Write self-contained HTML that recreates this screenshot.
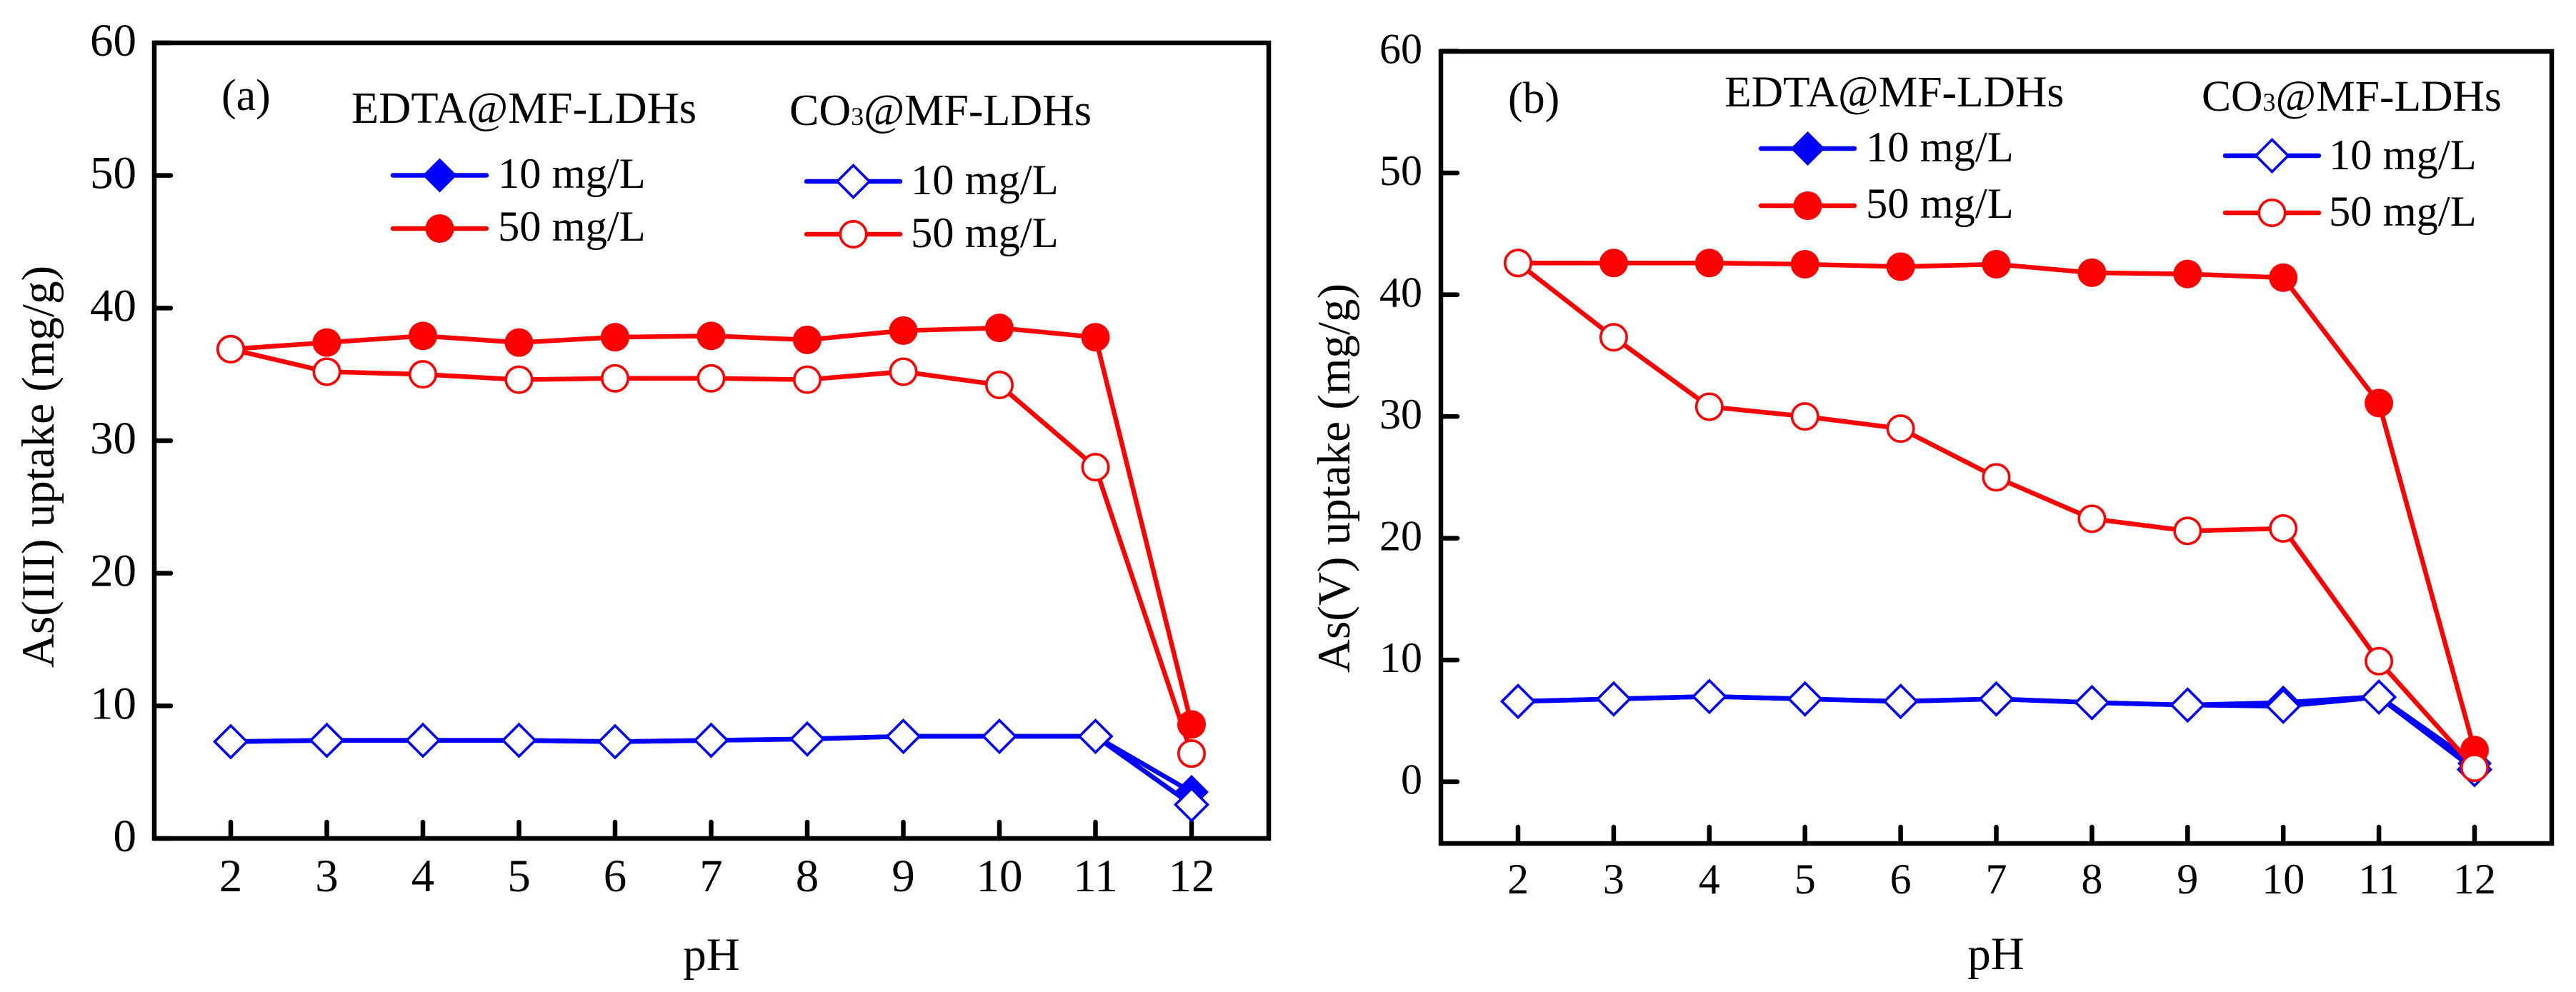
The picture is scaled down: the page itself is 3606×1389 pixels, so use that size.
<!DOCTYPE html>
<html lang="en">
<head>
<meta charset="utf-8">
<title>As uptake versus pH</title>
<style>
html,body{margin:0;padding:0;background:#fff;width:3606px;height:1389px;overflow:hidden}
svg{display:block}
text{font-family:"Liberation Serif",serif;fill:#000}
</style>
</head>
<body>
<svg id="chart" xmlns="http://www.w3.org/2000/svg" width="3606" height="1389" viewBox="0 0 3606 1389">
  <rect x="0" y="0" width="3606" height="1389" fill="#fff"/>
  <g id="panel-a"></g>
  <g id="panel-b"></g>

  <g>
    <text transform="translate(75,935) rotate(-90)" font-size="65">As(III) uptake (mg/g)</text>
    <text x="996" y="1358" font-size="65" text-anchor="middle">pH</text>
    <text x="310" y="154" font-size="62">(a)</text>
    <text x="492" y="172" font-size="62.5">EDTA@MF-LDHs</text>
    <text x="1105" y="175" font-size="62">CO<tspan font-size="36">3</tspan>@MF-LDHs</text>
    <text x="697" y="263" font-size="60.5">10 mg/L</text>
    <text x="697" y="337" font-size="60.5">50 mg/L</text>
    <text x="1275" y="272" font-size="60.5">10 mg/L</text>
    <text x="1275" y="346" font-size="60.5">50 mg/L</text>
  </g>

  <g>
    <text transform="translate(1889,942) rotate(-90)" font-size="65">As(V) uptake (mg/g)</text>
    <text x="2794" y="1357" font-size="65" text-anchor="middle">pH</text>
    <text x="2111" y="158" font-size="62">(b)</text>
    <text x="2414" y="149" font-size="61.5">EDTA@MF-LDHs</text>
    <text x="3082" y="155" font-size="61.5">CO<tspan font-size="36">3</tspan>@MF-LDHs</text>
    <text x="2612" y="226" font-size="60.5">10 mg/L</text>
    <text x="2612" y="305" font-size="60.5">50 mg/L</text>
    <text x="3260" y="237" font-size="60.5">10 mg/L</text>
    <text x="3260" y="316" font-size="60.5">50 mg/L</text>
  </g>
</svg>
<script>
const phCategories = [2, 3, 4, 5, 6, 7, 8, 9, 10, 11, 12];
const yTicksA = [0, 10, 20, 30, 40, 50, 60];
const yTicksB = [0, 10, 20, 30, 40, 50, 60];

const aEdta10 = [7.3, 7.4, 7.4, 7.4, 7.3, 7.4, 7.5, 7.7, 7.7, 7.7, 3.5];
const aEdta50 = [36.9, 37.4, 37.9, 37.4, 37.8, 37.9, 37.6, 38.3, 38.5, 37.8, 8.6];
const aCo310 = [7.3, 7.4, 7.4, 7.4, 7.3, 7.4, 7.5, 7.7, 7.7, 7.7, 2.55];
const aCo350 = [36.9, 35.2, 35.0, 34.6, 34.7, 34.7, 34.6, 35.2, 34.2, 28.0, 6.4];

const bEdta10 = [6.6, 6.8, 7.0, 6.8, 6.6, 6.8, 6.5, 6.3, 6.5, 7.0, 1.5];
const bEdta50 = [42.6, 42.6, 42.6, 42.5, 42.3, 42.5, 41.8, 41.7, 41.4, 31.1, 2.6];
const bCo310 = [6.6, 6.8, 7.0, 6.8, 6.6, 6.8, 6.5, 6.3, 6.2, 6.95, 1.0];
const bCo350 = [42.6, 36.5, 30.8, 30.0, 29.0, 25.0, 21.6, 20.6, 20.8, 9.9, 1.15];

const SVGNS = 'http://www.w3.org/2000/svg';
const BLUE = '#0000ff';
const RED = '#ff0000';

function make(tag, parent) {
  const el = document.createElementNS(SVGNS, tag);
  parent.appendChild(el);
  return el;
}

function linearAxis(d0, p0, d1, p1) {
  return function (v) { return p0 + (v - d0) * (p1 - p0) / (d1 - d0); };
}

function drawMarker(parent, kind, cx, cy, name) {
  let el;
  if (kind === 'filled-diamond' || kind === 'open-diamond') {
    el = make('polygon', parent);
    const open = kind === 'open-diamond';
    const r = open ? 22.5 : 24;
    el.setAttribute('points', (cx - r) + ',' + cy + ' ' + cx + ',' + (cy - r) + ' ' + (cx + r) + ',' + cy + ' ' + cx + ',' + (cy + r));
    el.setAttribute('fill', open ? '#fff' : BLUE);
    el.setAttribute('stroke', open ? BLUE : 'none');
    el.setAttribute('stroke-width', '3.6');
    el.setAttribute('stroke-linejoin', 'miter');
  } else {
    el = make('circle', parent);
    const open = kind === 'open-circle';
    el.setAttribute('cx', cx);
    el.setAttribute('cy', cy);
    el.setAttribute('r', open ? 18.2 : 20);
    el.setAttribute('fill', open ? '#fff' : RED);
    el.setAttribute('stroke', open ? RED : 'none');
    el.setAttribute('stroke-width', '3.6');
  }
  
  
  return el;
}

function drawSeries(parent, name, values, color, kind, xOf, yOf) {
  const g = make('g', parent);
  
  
  const line = make('polyline', g);
  
  
  line.setAttribute('points', values.map(function (v, i) { return xOf(phCategories[i]) + ',' + yOf(v); }).join(' '));
  line.setAttribute('fill', 'none');
  line.setAttribute('stroke', color);
  line.setAttribute('stroke-width', '6.5');
  values.forEach(function (v, i) {
    drawMarker(g, kind, xOf(phCategories[i]), yOf(v), name + '-point-ph' + phCategories[i]);
  });
}

function drawLegendKey(parent, name, x0, x1, y, color, kind) {
  const g = make('g', parent);
  
  
  const line = make('line', g);
  
  
  line.setAttribute('x1', x0);
  line.setAttribute('x2', x1);
  line.setAttribute('y1', y);
  line.setAttribute('y2', y);
  line.setAttribute('stroke', color);
  line.setAttribute('stroke-width', '6.5');
  line.setAttribute('stroke-linecap', 'round');
  drawMarker(g, kind, (x0 + x1) / 2, y, name + '-marker');
}

function drawPanel(opts) {
  const root = document.getElementById(opts.id);
  const xOf = opts.xOf;
  const yOf = opts.yOf;

  const xTicks = make('g', root);
  
  
  phCategories.forEach(function (c) {
    const t = make('line', xTicks);
    
    
    t.setAttribute('x1', xOf(c));
    t.setAttribute('x2', xOf(c));
    t.setAttribute('y1', opts.bottom);
    t.setAttribute('y2', opts.bottom - 23);
    t.setAttribute('stroke', '#000');
    t.setAttribute('stroke-width', '6.5');
    t.setAttribute('stroke-linecap', 'round');
    const l = make('text', xTicks);
    
    
    l.setAttribute('x', xOf(c));
    l.setAttribute('y', opts.xLabelY);
    l.setAttribute('font-size', opts.tickFont);
    l.setAttribute('text-anchor', 'middle');
    l.textContent = String(c);
  });

  const yTicks = make('g', root);
  
  
  opts.yTickValues.forEach(function (v) {
    const t = make('line', yTicks);
    
    
    t.setAttribute('x1', opts.left);
    t.setAttribute('x2', opts.left + 23);
    t.setAttribute('y1', yOf(v));
    t.setAttribute('y2', yOf(v));
    t.setAttribute('stroke', '#000');
    t.setAttribute('stroke-width', '6.5');
    t.setAttribute('stroke-linecap', 'round');
    const l = make('text', yTicks);
    
    
    l.setAttribute('x', opts.yLabelX);
    l.setAttribute('y', yOf(v) + opts.yLabelDy);
    l.setAttribute('font-size', opts.tickFont);
    l.setAttribute('text-anchor', 'end');
    l.textContent = String(v);
  });

  const frame = make('rect', root);
  
  
  frame.setAttribute('x', opts.left);
  frame.setAttribute('y', opts.top);
  frame.setAttribute('width', opts.right - opts.left);
  frame.setAttribute('height', opts.bottom - opts.top);
  frame.setAttribute('fill', 'none');
  frame.setAttribute('stroke', '#000');
  frame.setAttribute('stroke-width', '6.5');

  drawSeries(root, opts.prefix + '-series-edta-10', opts.edta10, BLUE, 'filled-diamond', xOf, yOf);
  drawSeries(root, opts.prefix + '-series-co3-10', opts.co310, BLUE, 'open-diamond', xOf, yOf);
  drawSeries(root, opts.prefix + '-series-edta-50', opts.edta50, RED, 'filled-circle', xOf, yOf);
  drawSeries(root, opts.prefix + '-series-co3-50', opts.co350, RED, 'open-circle', xOf, yOf);

  drawLegendKey(root, opts.prefix + '-legend-key-edta-10', opts.keyE[0], opts.keyE[1], opts.keyE[2], BLUE, 'filled-diamond');
  drawLegendKey(root, opts.prefix + '-legend-key-edta-50', opts.keyE[0], opts.keyE[1], opts.keyE[3], RED, 'filled-circle');
  drawLegendKey(root, opts.prefix + '-legend-key-co3-10', opts.keyC[0], opts.keyC[1], opts.keyC[2], BLUE, 'open-diamond');
  drawLegendKey(root, opts.prefix + '-legend-key-co3-50', opts.keyC[0], opts.keyC[1], opts.keyC[3], RED, 'open-circle');
}

drawPanel({
  id: 'panel-a', prefix: 'panel-a',
  left: 216, right: 1776, top: 60, bottom: 1174,
  xOf: linearAxis(2, 323, 12, 1668),
  yOf: linearAxis(0, 1174, 60, 60),
  yTickValues: yTicksA,
  tickFont: 65, xLabelY: 1248, yLabelX: 191, yLabelDy: 18,
  edta10: aEdta10, edta50: aEdta50, co310: aCo310, co350: aCo350,
  keyE: [550, 681, 245.5, 320],
  keyC: [1129, 1260, 254, 328]
});

drawPanel({
  id: 'panel-b', prefix: 'panel-b',
  left: 2017, right: 3572, top: 72, bottom: 1181,
  xOf: linearAxis(2, 2125, 12, 3464),
  yOf: linearAxis(0, 1094.6, 60, 71.6),
  yTickValues: yTicksB,
  tickFont: 60, xLabelY: 1251, yLabelX: 1991, yLabelDy: 17,
  edta10: bEdta10, edta50: bEdta50, co310: bCo310, co350: bCo350,
  keyE: [2465, 2596, 208, 288],
  keyC: [3115, 3246, 218, 298]
});
</script>
</body>
</html>
